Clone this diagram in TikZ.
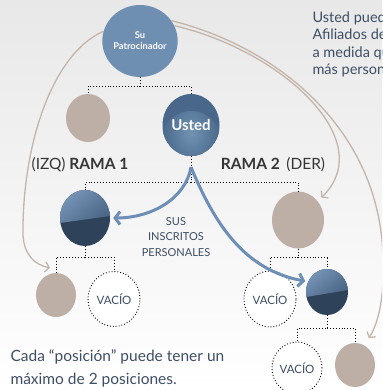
\documentclass[tikz,border=0pt]{standalone}
\usepackage{fontspec}
\setmainfont{Lato}
\usetikzlibrary{shapes.geometric,arrows.meta}

\definecolor{colFondo}{HTML}{E8E8E8}
\definecolor{colAzul}{HTML}{6F8FB2}
\definecolor{colUstedIn}{HTML}{7293B4}
\definecolor{colUstedOut}{HTML}{48678A}
\definecolor{colOsc}{HTML}{2E4259}
\definecolor{colBrillo}{HTML}{7391B4}
\definecolor{colOscMed}{HTML}{3B5573}
\definecolor{colBeige}{HTML}{BDAFA6}
\definecolor{colTexto}{HTML}{3E4E64}
\definecolor{colFlecha}{HTML}{6D8EB5}
\definecolor{colLinea}{HTML}{C4B5AA}
\definecolor{colRotulo}{HTML}{363636}

\tikzset{
  posicion/.style={ellipse,inner sep=0pt},
  socio/.style={posicion,fill=colBeige},
  vacio/.style={posicion,draw,dotted,line width=0.9pt,fill=white,text=colTexto,font=\fontsize{11.5}{12}\selectfont},
  oscuro/.style={posicion,fill=colOsc,
    path picture={\shade[top color=colBrillo,bottom color=colOscMed,shading angle=40]
      (path picture bounding box.north west) -- (path picture bounding box.north east)
      -- ([yshift=2pt]path picture bounding box.east)
      .. controls ([yshift=-1pt]path picture bounding box.center) .. ([yshift=-5pt]path picture bounding box.west) -- cycle;}},
  usted/.style={posicion,fill=colUstedOut,text=white,font=\bfseries\fontsize{15}{15}\selectfont,
    path picture={\fill[inner color=colUstedIn,outer color=colUstedOut]
      ([yshift=-16pt]path picture bounding box.center) circle (30pt);}},
  arbol/.style={dotted,line width=0.9pt},
  inscrito/.style={colFlecha,line width=3pt,-{Straight Barb[length=5pt,width=13pt]}},
  derrame/.style={colLinea,line width=1.3pt,-{Straight Barb[length=4pt,width=10pt]}},
  rama/.style={text=colRotulo,font=\fontsize{15.5}{16}\selectfont}
}

\begin{document}
\begin{tikzpicture}[x=1pt,y=-1pt]
\shade[top color=colFondo,bottom color=white] (0,0) rectangle (382,390);
\useasboundingbox (0,0) rectangle (382,390);
\clip (0,0) rectangle (382,390);

\node[posicion,fill=colAzul,minimum width=66pt,minimum height=72pt,text=white,align=center,
  font=\bfseries\fontsize{9.3}{11}\selectfont] (spons) at (140,41) {Su\\Patrocinador};
\node[socio,minimum width=44pt,minimum height=48pt] (lado) at (88,118) {};
\node[usted,minimum width=57pt,minimum height=62pt] (usted) at (191,125) {Usted};

\node[oscuro,minimum width=50pt,minimum height=56pt] (rama1) at (85,218) {};
\node[socio,minimum width=52pt,minimum height=57pt] (rama2) at (298,220) {};

\node[socio,minimum width=40pt,minimum height=44pt] (a1) at (56,295) {};
\node[vacio,minimum width=52pt,minimum height=55pt] (v1) at (114,299) {VACÍO};
\node[vacio,minimum width=52pt,minimum height=56pt] (v2) at (270,299) {VACÍO};
\node[oscuro,minimum width=42pt,minimum height=46pt] (b2) at (327,292) {};
\node[vacio,minimum width=50pt,minimum height=52pt] (v3) at (297,368) {VACÍO};
\node[socio,minimum width=40pt,minimum height=44pt] (c3) at (355,365) {};

\draw[arbol] (spons.south) -- ++(0,9) coordinate (s1) -| (lado.north);
\draw[arbol] (s1) -| (usted.north);
\draw[arbol] (usted.south) -- ++(0,26) coordinate (u1) -| (rama1.north);
\draw[arbol] (u1) -| (rama2.north);
\draw[arbol] (rama1.south) -- ++(0,11) coordinate (r1) -| (a1.north);
\draw[arbol] (r1) -| (v1.north);
\draw[arbol] (rama2.south) -- ++(0,9) coordinate (r2) -| (v2.north);
\draw[arbol] (r2) -| (b2.north);
\draw[arbol] (b2.south) -- ++(0,13) coordinate (r3) -| (v3.north);
\draw[arbol] (r3) -| (c3.north);

\node[rama] (izq) at (80,165) {(IZQ) \textbf{RAMA 1}};
\node[rama] (der) at (273,165) {\textbf{RAMA 2}\, (DER)};

\coordinate (fork) at ([yshift=-11pt]usted.south);
\draw[inscrito] (fork) .. controls (185,200) and (150,218) .. ([xshift=3pt]rama1.east);
\draw[inscrito] (fork) .. controls (215,225) and (245,270) .. ([xshift=-3pt]b2.150);
\node[text=colTexto,align=center,font=\fontsize{11}{15.5}\selectfont] (sus) at (176,237) {SUS\\INSCRITOS\\PERSONALES};

\draw[derrame] (spons.165) .. controls (50,55) and (22,150) .. (23,235)
  .. controls (24,255) and (35,265) .. ([xshift=-6pt,yshift=5pt]a1.north);
\draw[derrame] (spons.24) .. controls (280,50) and (380,140) .. ([xshift=4pt,yshift=3pt]rama2.45);
\draw[derrame] (spons.33) .. controls (270,45) and (370,120) .. (382,240)
  .. controls (386,290) and (380,320) .. ([xshift=3pt,yshift=8pt]c3.60);

\node[anchor=north west,align=left,text=colTexto,font=\fontsize{14.5}{17.5}\selectfont] (nota) at (309,8)
  {Usted pued\\Afiliados de\\a medida qu\\más persona};
\node[anchor=west,align=left,text=colTexto,font=\fontsize{15.5}{23}\selectfont] (regla) at (7,368.5)
  {Cada “posición” puede tener un\\máximo de 2 posiciones.};
\end{tikzpicture}
\end{document}
